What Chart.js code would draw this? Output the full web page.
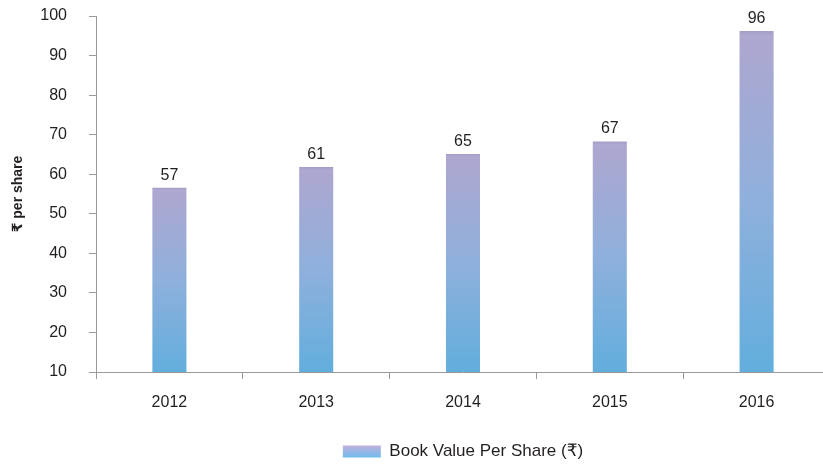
<!DOCTYPE html>
<html><head><meta charset="utf-8">
<script src="https://cdn.jsdelivr.net/npm/chart.js@4.4.1/dist/chart.umd.min.js"></script>
<style>
html,body{margin:0;padding:0;overflow:hidden;background:#fff;width:823px;height:466px}
#wrap{position:absolute;left:0;top:0;width:830px;height:470px}
</style></head>
<body><div id="wrap"><canvas id="c" width="830" height="470"></canvas></div>
<script>
// ---- data ----
const years = ['2012', '2013', '2014', '2015', '2016'];
const bookValue = [56.6, 61.8, 65.1, 68.3, 96.2];
const valueLabels = ['57', '61', '65', '67', '96'];
const seriesName = 'Book Value Per Share (\u20B9)';
const yAxisTitle = '\u20B9 per share';
const yMin = 10, yMax = 100, yStep = 10;

const FONT = "'Liberation Sans', Arimo, Helvetica, Arial, 'DejaVu Sans', sans-serif";
const TEXT = '#231f20';
const AXIS = '#9a9a9a';

function barGradient(c) {
  const chart = c.chart;
  const ys = chart.scales && chart.scales.y;
  if (!ys || c.type !== 'data' || !c.parsed) return '#8fb0dc';
  const top = ys.getPixelForValue(c.parsed.y);
  const bot = ys.getPixelForValue(ys.min);
  if (!isFinite(top) || !isFinite(bot) || bot <= top) return '#8fb0dc';
  const g = chart.ctx.createLinearGradient(0, top, 0, bot);
  g.addColorStop(0, '#a59fc8');
  g.addColorStop(0.015, '#aea9d1');
  g.addColorStop(0.04, '#aca7d0');
  g.addColorStop(0.5, '#8fb0dc');
  g.addColorStop(1, '#62aedd');
  return g;
}

const valueLabelPlugin = {
  id: 'valueLabels',
  afterDatasetsDraw(chart) {
    const ctx = chart.ctx;
    const meta = chart.getDatasetMeta(0);
    ctx.save();
    ctx.font = '16px ' + FONT;
    ctx.fillStyle = TEXT;
    ctx.textAlign = 'center';
    ctx.textBaseline = 'alphabetic';
    meta.data.forEach((el, i) => {
      ctx.fillText(valueLabels[i], el.x, el.y - 8);
    });
    ctx.restore();
  }
};

new Chart(document.getElementById('c'), {
  type: 'bar',
  data: {
    labels: years,
    datasets: [{
      label: seriesName,
      data: bookValue,
      backgroundColor: barGradient,
      borderWidth: 0,
      categoryPercentage: 1,
      barPercentage: 0.232
    }]
  },
  options: {
    responsive: false,
    animation: false,
    layout: { padding: { top: 16, left: 0, right: 0, bottom: 0 } },
    scales: {
      x: {
        offset: true,
        grid: { offset: true, drawOnChartArea: false, drawTicks: true, tickLength: 7, color: AXIS },
        border: { color: AXIS, width: 1 },
        ticks: { color: TEXT, font: { family: FONT, size: 16 }, padding: 14, maxRotation: 0 },
        afterFit(s) { s.height = 61; s.paddingTop = 0; s.paddingBottom = 0; }
      },
      y: {
        min: yMin, max: yMax,
        grid: { drawOnChartArea: false, drawTicks: true, tickLength: 7, color: AXIS },
        border: { color: AXIS, width: 1 },
        ticks: { stepSize: yStep, color: TEXT, font: { family: FONT, size: 16 }, padding: 22 },
        title: { display: true, text: yAxisTitle, color: TEXT, font: { family: FONT, size: 14, weight: 'bold' }, padding: { top: 10, bottom: 0 } },
        afterFit(s) { s.width = 96; s.paddingTop = 0; s.paddingBottom = 0; }
      }
    },
    plugins: {
      tooltip: { enabled: false },
      legend: {
        position: 'bottom',
        fullSize: false,
        labels: {
          boxWidth: 38, boxHeight: 12, padding: 10, color: TEXT,
          font: { family: FONT, size: 17 },
          generateLabels(chart) {
            const g = chart.ctx.createLinearGradient(0, 445, 0, 458);
            g.addColorStop(0, '#c3b1dd');
            g.addColorStop(1, '#6cbcee');
            return [{ text: seriesName, fillStyle: g, strokeStyle: 'rgba(0,0,0,0)', lineWidth: 0, hidden: false, datasetIndex: 0, fontColor: TEXT }];
          }
        }
      }
    }
  },
  plugins: [valueLabelPlugin]
});
</script>
</body></html>
